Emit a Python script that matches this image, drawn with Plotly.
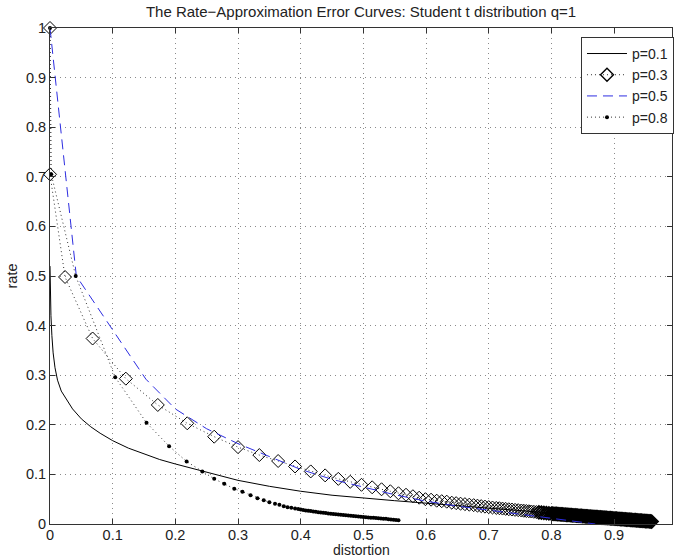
import plotly.graph_objects as go

title_text = "The Rate\u2212Approximation Error Curves: Student t distribution q=1"
x_label = "distortion"
y_label = "rate"
series_names = ["p=0.1", "p=0.3", "p=0.5", "p=0.8"]

x_ticks = [0, 0.1, 0.2, 0.3, 0.4, 0.5, 0.6, 0.7, 0.8, 0.9]
x_tick_labels = ["0", "0.1", "0.2", "0.3", "0.4", "0.5", "0.6", "0.7", "0.8", "0.9"]
y_ticks = [0, 0.1, 0.2, 0.3, 0.4, 0.5, 0.6, 0.7, 0.8, 0.9, 1.0]
y_tick_labels = ["0", "0.1", "0.2", "0.3", "0.4", "0.5", "0.6", "0.7", "0.8", "0.9", "1"]

# p=0.1 (solid)
p01_x = [0.0, 0.0005, 0.0015, 0.003, 0.005, 0.008, 0.012, 0.018, 0.026, 0.036, 0.05,
         0.065, 0.08, 0.1, 0.125, 0.15, 0.175, 0.2, 0.25, 0.3, 0.35, 0.4, 0.45, 0.5,
         0.55, 0.6, 0.65, 0.7, 0.75, 0.8, 0.85, 0.9, 0.96]
p01_y = [0.52, 0.47, 0.42, 0.38, 0.345, 0.315, 0.29, 0.268, 0.252, 0.232, 0.212,
         0.196, 0.183, 0.168, 0.153, 0.141, 0.130, 0.121, 0.104, 0.088, 0.076, 0.066,
         0.058, 0.052, 0.047, 0.042, 0.037, 0.032, 0.027, 0.022, 0.017, 0.012, 0.006]

# p=0.3 (dotted, diamonds)
p03_x = [0.0, 0.0, 0.024, 0.068, 0.121, 0.172, 0.219, 0.262, 0.300, 0.334, 0.364,
         0.391, 0.416, 0.439, 0.460, 0.479, 0.497, 0.514, 0.529, 0.543, 0.556, 0.568,
         0.579, 0.589, 0.599,
         0.608, 0.617, 0.625, 0.633, 0.641, 0.648, 0.655, 0.662, 0.669, 0.676, 0.682,
         0.688, 0.694, 0.700, 0.706, 0.712, 0.717, 0.722, 0.727, 0.732, 0.737, 0.742,
         0.747, 0.752, 0.756, 0.760, 0.764, 0.768, 0.772, 0.776, 0.780, 0.784, 0.788,
         0.792, 0.796, 0.800,
         0.802, 0.804, 0.806, 0.808, 0.810, 0.812, 0.814, 0.816, 0.818, 0.820,
         0.822, 0.824, 0.826, 0.828, 0.830, 0.832, 0.834, 0.836, 0.838, 0.840,
         0.842, 0.844, 0.846, 0.848, 0.850, 0.852, 0.854, 0.856, 0.858, 0.860,
         0.862, 0.864, 0.866, 0.868, 0.870, 0.872, 0.874, 0.876, 0.878, 0.880,
         0.882, 0.884, 0.886, 0.888, 0.890, 0.892, 0.894, 0.896, 0.898, 0.900,
         0.902, 0.904, 0.906, 0.908, 0.910, 0.912, 0.914, 0.916, 0.918, 0.920,
         0.922, 0.924, 0.926, 0.928, 0.930, 0.932, 0.934, 0.936, 0.938, 0.940,
         0.942, 0.944, 0.946, 0.948, 0.950, 0.952, 0.954, 0.956, 0.958, 0.960]
p03_y = [1.0, 0.705, 0.498, 0.374, 0.293, 0.240, 0.203, 0.176, 0.155, 0.139, 0.127,
         0.116, 0.106, 0.098, 0.091, 0.085, 0.079, 0.074, 0.070, 0.066, 0.062, 0.059,
         0.056, 0.053, 0.050,
         0.049, 0.047, 0.046, 0.045, 0.043, 0.042, 0.041, 0.040, 0.039, 0.038, 0.037,
         0.036, 0.035, 0.034, 0.0332, 0.0324, 0.0318, 0.0311, 0.0305, 0.0298, 0.0292,
         0.0285, 0.0279, 0.0272, 0.0267, 0.0262, 0.0257, 0.0252, 0.0246, 0.0241, 0.0236,
         0.0231, 0.0226, 0.0220, 0.0215, 0.0210,
         0.0208, 0.0206, 0.0204, 0.0202, 0.0200, 0.0198, 0.0196, 0.0194, 0.0192, 0.0190,
         0.0188, 0.0186, 0.0184, 0.0182, 0.0180, 0.0178, 0.0176, 0.0174, 0.0172, 0.0170,
         0.0168, 0.0166, 0.0164, 0.0162, 0.0160, 0.0158, 0.0156, 0.0154, 0.0152, 0.0150,
         0.0148, 0.0146, 0.0144, 0.0142, 0.0140, 0.0138, 0.0136, 0.0134, 0.0132, 0.0130,
         0.0128, 0.0126, 0.0124, 0.0122, 0.0120, 0.0118, 0.0116, 0.0114, 0.0112, 0.0110,
         0.0108, 0.0106, 0.0104, 0.0102, 0.0100, 0.0098, 0.0096, 0.0094, 0.0092, 0.0090,
         0.0088, 0.0086, 0.0084, 0.0082, 0.0080, 0.0078, 0.0076, 0.0074, 0.0072, 0.0070,
         0.0068, 0.0066, 0.0064, 0.0062, 0.0060, 0.0058, 0.0056, 0.0054, 0.0052, 0.0050]

# p=0.5 (blue dashed)
p05_x = [0.0, 0.042, 0.153, 0.2, 0.25, 0.3, 0.35, 0.4, 0.45, 0.5, 0.55, 0.6, 0.65,
         0.7, 0.75, 0.8, 0.84, 0.87]
p05_y = [1.0, 0.5, 0.292, 0.232, 0.192, 0.162, 0.136, 0.110, 0.090, 0.074, 0.059,
         0.046, 0.036, 0.028, 0.020, 0.012, 0.005, 0.0]

# p=0.8 (dotted, dots)
p08_x = [0.0, 0.002, 0.041, 0.104, 0.154, 0.190, 0.218, 0.243, 0.262, 0.278, 0.294,
         0.307, 0.320, 0.331, 0.341, 0.350, 0.359, 0.366, 0.373, 0.379, 0.385, 0.391,
         0.396, 0.400,
         0.404, 0.408, 0.412, 0.416, 0.420, 0.424, 0.428, 0.432, 0.436, 0.440, 0.444,
         0.448, 0.452, 0.456, 0.460, 0.464, 0.468, 0.472, 0.476, 0.480, 0.484, 0.488,
         0.492, 0.496, 0.500, 0.504, 0.508, 0.512, 0.516, 0.520, 0.524, 0.528, 0.532,
         0.536, 0.540, 0.544, 0.548, 0.552, 0.556]
p08_y = [1.0, 0.705, 0.500, 0.296, 0.204, 0.157, 0.126, 0.106, 0.091, 0.081, 0.071,
         0.065, 0.058, 0.052, 0.048, 0.044, 0.041, 0.039, 0.036, 0.034, 0.033, 0.031,
         0.030, 0.029,
         0.0282, 0.0274, 0.0267, 0.0260, 0.0253, 0.0246, 0.0239, 0.0232, 0.0226, 0.0220,
         0.0214, 0.0208, 0.0202, 0.0196, 0.0190, 0.0185, 0.0180, 0.0175, 0.0170, 0.0165,
         0.0160, 0.0155, 0.0150, 0.0145, 0.0140, 0.0136, 0.0132, 0.0128, 0.0124, 0.0120,
         0.0116, 0.0112, 0.0108, 0.0104, 0.0098, 0.0093, 0.0088, 0.0083, 0.0078]

dot_style = "1px,3px"
# heavier outline where the diamonds pile up into a solid band
diamond_line_w = [1.0 if x < 0.78 else 1.6 for x in p03_x]

fig = go.Figure()
fig.add_trace(go.Scatter(x=p01_x, y=p01_y, mode="lines", name=series_names[0],
                         line=dict(color="black", width=1), cliponaxis=False))
fig.add_trace(go.Scatter(x=p03_x, y=p03_y, mode="lines+markers", name=series_names[1],
                         line=dict(color="#333333", width=1, dash=dot_style),
                         marker=dict(symbol="diamond-open", size=10, color="black",
                                     line=dict(width=diamond_line_w, color="black")),
                         cliponaxis=False))
fig.add_trace(go.Scatter(x=p05_x, y=p05_y, mode="lines", name=series_names[2],
                         line=dict(color="rgb(45,45,225)", width=1, dash="10px,6px"),
                         cliponaxis=False))
fig.add_trace(go.Scatter(x=p08_x, y=p08_y, mode="lines+markers", name=series_names[3],
                         line=dict(color="#333333", width=1, dash=dot_style),
                         marker=dict(symbol="circle", size=4, color="black"),
                         cliponaxis=False))

font_family = "Liberation Sans, Arial, Helvetica, sans-serif"
axis_common = dict(
    showline=True, linecolor="#333333", linewidth=1, mirror="ticks",
    ticks="inside", ticklen=5, tickcolor="#333333",
    showgrid=True, gridcolor="#8a8a8a", griddash="1px,4px", gridwidth=1,
    zeroline=False, automargin=False,
    tickfont=dict(family=font_family, size=14.5, color="#222222"),
)

fig.update_layout(
    width=675, height=558,
    margin=dict(l=50, r=2, t=28, b=34),
    paper_bgcolor="white", plot_bgcolor="white",
    title=dict(text=title_text, x=0.5, xref="paper", xanchor="center",
               y=1 - 12 / 558, yanchor="middle", yref="container",
               font=dict(family=font_family, size=15, color="#222222")),
    xaxis=dict(range=[0, 0.9924], tickvals=x_ticks, ticktext=x_tick_labels,
               ticklabelstandoff=-2, **axis_common),
    yaxis=dict(range=[0, 1], tickvals=y_ticks, ticktext=y_tick_labels,
               title=dict(text=y_label, standoff=4,
                          font=dict(family=font_family, size=14.5, color="#222222")),
               **axis_common),
    legend=dict(x=1.0016, xanchor="right", y=0.982, yanchor="top",
                bordercolor="#333333", borderwidth=1, bgcolor="white",
                font=dict(family=font_family, size=14, color="#222222"),
                tracegroupgap=0, itemwidth=40),
    annotations=[dict(text=x_label, xref="paper", yref="paper", x=0.5, y=0,
                      xanchor="center", yanchor="middle", yshift=-26, showarrow=False,
                      font=dict(family=font_family, size=14, color="#222222"))],
    showlegend=True,
)

fig.write_html("out.html", config={"displayModeBar": False},
               post_script="document.body.style.margin='0';")
